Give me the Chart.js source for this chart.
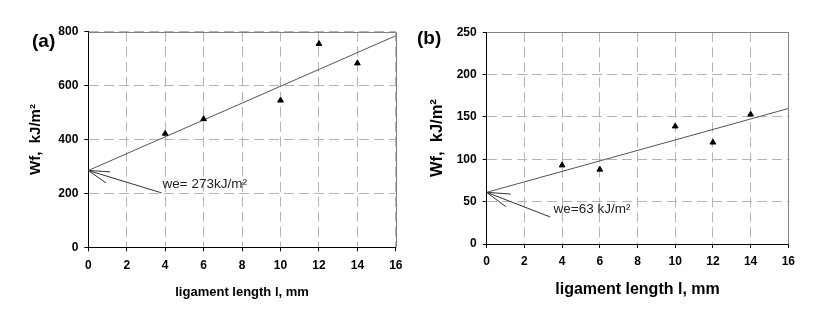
<!DOCTYPE html>
<html>
<head>
<meta charset="utf-8">
<script src="https://cdn.jsdelivr.net/npm/chart.js@4.4.0/dist/chart.umd.min.js"></script>
<style>
  body { margin: 0; background: #fff; }
  #wrap { position: relative; width: 827px; height: 316px; }
  .panel { position: absolute; top: 0; height: 316px; }
</style>
</head>
<body>
<div id="wrap">
  <div class="panel" style="left:0;width:410px"><canvas id="chartA" width="410" height="316"></canvas></div>
  <div class="panel" style="left:410px;width:417px"><canvas id="chartB" width="417" height="316"></canvas></div>
</div>
<script>
// ligament length (mm) of the tested specimens
const lengths = [4, 6, 10, 12, 14];
// total work of fracture, kJ/m2
const wfA = [422, 476, 545, 755, 683];
const wfB = [93, 88, 139, 120, 153];
// linear fit, evaluated at the two ends of the x axis
const fitX = [0, 16];
const fitA = [285, 785];
const fitB = [61, 160];
// tick labels
const xTicks = [0, 2, 4, 6, 8, 10, 12, 14, 16];
const yTicksA = [0, 200, 400, 600, 800];
const yTicksB = [0, 50, 100, 150, 200, 250];
// arrow pointing at the intercept: tip, two barbs, tail (data units)
const arrowTipA = [0, 285];
const arrowEndsA = [[1.13, 280], [0.92, 239], [3.81, 202]];
const arrowTipB = [0, 61];
const arrowEndsB = [[1.27, 59], [1.02, 44], [3.36, 32]];
// annotation text
const noteA = { text: "we= 273kJ/m\u00b2", x: 3.86, y: 233 };
const noteB = { text: "we=63 kJ/m\u00b2", x: 3.55, y: 41 };

const FONT = '"Liberation Sans", Arial, sans-serif';

function makeDatasets(ys, fit, tip, ends) {
  const sets = [{
    data: lengths.map((x, i) => ({ x: x, y: ys[i] })),
    pointStyle: "triangle",
    pointRadius: 3.3,
    backgroundColor: "#000",
    borderColor: "#000",
    borderWidth: 1,
    showLine: false
  }, {
    data: fitX.map((x, i) => ({ x: x, y: fit[i] })),
    borderColor: "#555",
    borderWidth: 1,
    pointRadius: 0,
    showLine: true
  }];
  ends.forEach(e => {
    sets.push({
      data: [{ x: tip[0], y: tip[1] }, { x: e[0], y: e[1] }],
      borderColor: "#333",
      borderWidth: 1,
      pointRadius: 0,
      showLine: true
    });
  });
  return sets;
}

function decor(label, note) {
  return {
    id: "decor",
    beforeDatasetsDraw(chart) {
      const ctx = chart.ctx, a = chart.chartArea;
      ctx.save();
      ctx.strokeStyle = "#808080";
      ctx.lineWidth = 1;
      ctx.beginPath();
      ctx.moveTo(Math.round(a.left) + 0.5, Math.round(a.top) + 0.5);
      ctx.lineTo(Math.round(a.right) + 0.5, Math.round(a.top) + 0.5);
      ctx.lineTo(Math.round(a.right) + 0.5, Math.round(a.bottom) + 0.5);
      ctx.stroke();
      ctx.restore();
    },
    afterDraw(chart) {
      const ctx = chart.ctx;
      const xs = chart.scales.x, ys = chart.scales.y;
      ctx.save();
      ctx.textBaseline = "middle";
      ctx.fillStyle = "#000";
      ctx.font = "bold 19px " + FONT;
      ctx.fillText(label.text, label.x, label.y);
      ctx.fillStyle = "#222";
      ctx.font = "13.5px " + FONT;
      ctx.fillText(note.text, xs.getPixelForValue(note.x), ys.getPixelForValue(note.y));
      ctx.restore();
    }
  };
}

function makeChart(id, p) {
  return new Chart(document.getElementById(id), {
    type: "scatter",
    data: { datasets: makeDatasets(p.ys, p.fit, p.tip, p.ends) },
    options: {
      responsive: false,
      animation: false,
      devicePixelRatio: 1,
      layout: { padding: p.pad },
      plugins: { legend: { display: false }, tooltip: { enabled: false } },
      scales: {
        x: {
          type: "linear",
          min: 0, max: 16,
          afterBuildTicks: s => { s.ticks = xTicks.map(v => ({ value: v })); },
          afterFit: s => { s.height = p.xHeight; },
          grid: { color: "#b4b4b4", tickColor: "#000", tickLength: 4 },
          border: { display: true, color: "#000", width: 1, dash: [10, 5] },
          ticks: { color: "#000", padding: p.xTickPad, font: { family: FONT, size: 12, weight: "bold" } },
          title: {
            display: true, text: "ligament length l, mm", color: "#000",
            font: { family: FONT, size: p.xTitleSize, weight: "bold" },
            padding: { top: 0, bottom: p.xTitlePad }
          }
        },
        y: {
          type: "linear",
          min: p.yTicks[0], max: p.yTicks[p.yTicks.length - 1],
          afterBuildTicks: s => { s.ticks = p.yTicks.map(v => ({ value: v })); },
          afterFit: s => { s.width = p.yWidth; },
          grid: { color: "#b4b4b4", tickColor: "#000", tickLength: 4 },
          border: { display: true, color: "#000", width: 1, dash: [10, 5] },
          ticks: { color: "#000", padding: 6, font: { family: FONT, size: 12, weight: "bold" } },
          title: {
            display: true, text: "Wf,  kJ/m\u00b2", color: "#000",
            font: { family: FONT, size: p.yTitleSize, weight: "bold" },
            padding: { top: p.yTitlePad, bottom: 0 }
          }
        }
      }
    },
    plugins: [decor(p.label, p.note)]
  });
}

makeChart("chartA", {
  ys: wfA, fit: fitA, tip: arrowTipA, ends: arrowEndsA, yTicks: yTicksA,
  pad: { left: 0, top: 31.7, right: 13.3, bottom: 0 },
  yWidth: 88.3, xHeight: 68.7, xTickPad: 7.5,
  xTitleSize: 13, xTitlePad: 16, yTitleSize: 15, yTitlePad: 27,
  label: { text: "(a)", x: 32, y: 42 }, note: noteA
});

makeChart("chartB", {
  ys: wfB, fit: fitB, tip: arrowTipB, ends: arrowEndsB, yTicks: yTicksB,
  pad: { left: 0, top: 32.3, right: 38.7, bottom: 0 },
  yWidth: 76.7, xHeight: 72, xTickPad: 6.5,
  xTitleSize: 16, xTitlePad: 17, yTitleSize: 16.5, yTitlePad: 17.4,
  label: { text: "(b)", x: 7, y: 39 }, note: noteB
});
</script>
</body>
</html>
